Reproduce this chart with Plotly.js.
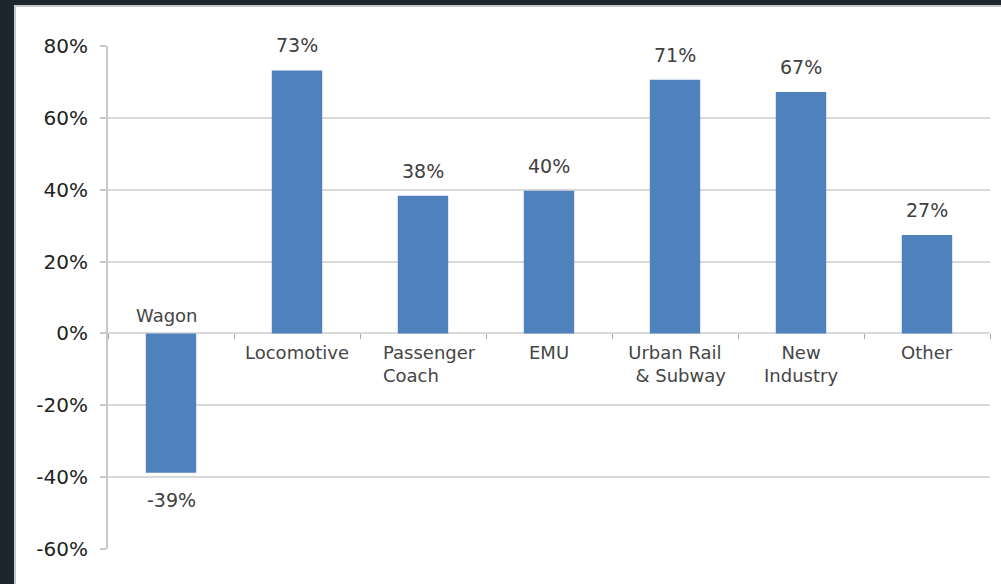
<!DOCTYPE html>
<html>
<head>
<meta charset="utf-8">
<script src="https://cdn.plot.ly/plotly-3.0.1.min.js"></script>
<style>
  html, body { margin: 0; padding: 0; }
  body { width: 1001px; height: 584px; background: #1e262d; position: relative; overflow: hidden; }
  #chart { position: absolute; left: 14px; top: 5px; width: 985px; height: 577px;
           border-left: 2px solid #c9c9c9; border-top: 2px solid #c9c9c9; background: #fff; }
</style>
</head>
<body>
<div id="chart"></div>
<script>
const categories = ["Wagon", "Locomotive", "Passenger Coach", "EMU", "Urban Rail & Subway", "New Industry", "Other"];
const categoryLabels = ["Wagon", "Locomotive", "Passenger<br>Coach", "EMU", "Urban Rail<br>\u00a0\u00a0& Subway", "New<br>Industry", "Other"];
const growthValues = [-38.8, 73.2, 38.3, 39.7, 70.6, 67.2, 27.4];
const yTickValues = [-60, -40, -20, 0, 20, 40, 60, 80];

const labelFont = { family: "DejaVu Sans, Verdana, sans-serif", size: 19, color: "#404040" };
const catFont = { family: "DejaVu Sans, Verdana, sans-serif", size: 18, color: "#454545" };

const annotations = [];
growthValues.forEach((v, i) => {
  annotations.push({
    x: categories[i], y: v, xref: "x", yref: "y",
    text: Math.round(v) + "%", showarrow: false,
    font: labelFont, yanchor: "middle",
    yshift: v >= 0 ? 25 : -27
  });
  const cat = {
    x: categories[i], y: 0, xref: "x", yref: "y",
    text: categoryLabels[i], showarrow: false, font: catFont,
    align: "center"
  };
  if (v < 0) { cat.yanchor = "bottom"; cat.yshift = 5; cat.xshift = -4; }
  else { cat.yanchor = "top"; cat.yshift = -7; }
  if (categoryLabels[i].startsWith("Passenger")) { cat.align = "left"; cat.xshift = 6; }
  annotations.push(cat);
});

const trace = {
  type: "bar",
  x: categories,
  y: growthValues,
  width: 0.4,
  marker: { color: "#4f81bd", line: { width: 0 } },
  hoverinfo: "skip"
};

const layout = {
  width: 985, height: 577,
  margin: { l: 92, r: 11, t: 39, b: 35 },
  paper_bgcolor: "#ffffff",
  plot_bgcolor: "#ffffff",
  showlegend: false,
  bargap: 0.6,
  font: { family: "DejaVu Sans, Verdana, sans-serif", color: "#222" },
  xaxis: {
    type: "category",
    range: [-0.5, 6.5],
    showticklabels: false,
    showgrid: false,
    zeroline: false,
    showline: false,
    ticks: "outside",
    tickson: "boundaries",
    ticklen: 5,
    tickcolor: "#a6a6a6",
    tickwidth: 1,
    anchor: "free",
    position: 60 / 140,
    fixedrange: true
  },
  yaxis: {
    range: [-60, 80],
    tickvals: yTickValues,
    ticktext: yTickValues.map(v => v + "%"),
    showgrid: true,
    gridcolor: "#d9d9d9",
    gridwidth: 2,
    zeroline: false,
    showline: true,
    linecolor: "#c8c8c8",
    linewidth: 2,
    ticks: "outside",
    ticklen: 6,
    tickcolor: "#c8c8c8",
    tickwidth: 2,
    tickfont: { family: "DejaVu Sans, Verdana, sans-serif", size: 20, color: "#222" },
    ticklabelstandoff: 8,
    fixedrange: true
  },
  annotations: annotations
};

Plotly.newPlot("chart", [trace], layout, { displayModeBar: false, staticPlot: true });
</script>
</body>
</html>
